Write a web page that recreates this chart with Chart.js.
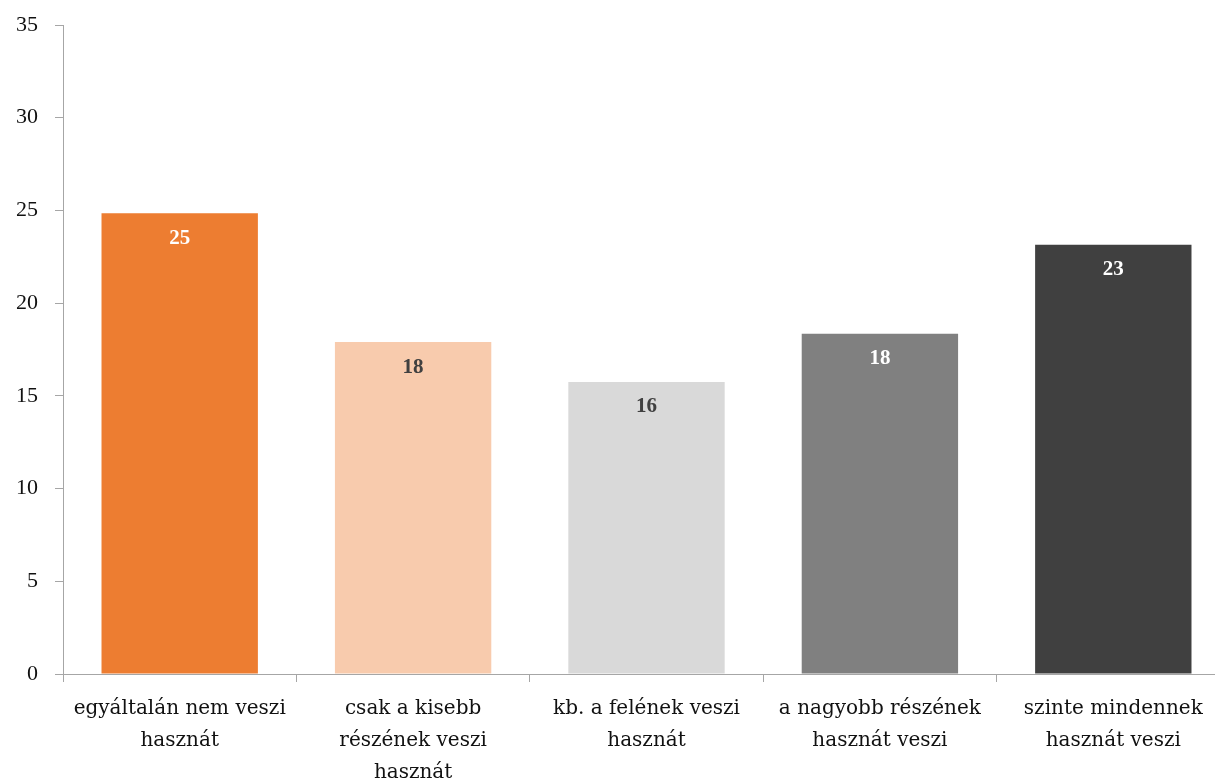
<!DOCTYPE html>
<html>
<head>
<meta charset="utf-8">
<script src="https://cdn.jsdelivr.net/npm/chart.js@4"></script>
<style>
html,body{margin:0;padding:0;background:#fff;overflow:hidden;}
#wrap{width:1230px;height:783px;position:relative;}
</style>
</head>
<body>
<div id="wrap"><canvas id="c" width="1230" height="783"></canvas></div>
<script>
const categories = [
  ["egyáltalán nem veszi", "hasznát"],
  ["csak a kisebb", "részének veszi", "hasznát"],
  ["kb. a felének veszi", "hasznát"],
  ["a nagyobb részének", "hasznát veszi"],
  ["szinte mindennek", "hasznát veszi"]
];
const values = [24.85, 17.9, 15.75, 18.35, 23.15];
const barColors = ["#ED7D31", "#F8CBAD", "#D9D9D9", "#808080", "#404040"];
const labelColors = ["#FFFFFF", "#404040", "#404040", "#FFFFFF", "#FFFFFF"];
const yMin = 0, yMax = 35, yStep = 5;

const labelPlugin = {
  id: 'barLabels',
  afterDatasetsDraw(chart) {
    const ctx = chart.ctx;
    const meta = chart.getDatasetMeta(0);
    ctx.save();
    ctx.font = 'bold 21px "Liberation Serif", serif';
    ctx.textAlign = 'center';
    ctx.textBaseline = 'middle';
    meta.data.forEach((bar, i) => {
      ctx.fillStyle = labelColors[i];
      ctx.fillText(Math.round(values[i]).toString(), bar.x, bar.y + 25);
    });
    ctx.restore();
  }
};

new Chart(document.getElementById('c'), {
  type: 'bar',
  data: {
    labels: categories,
    datasets: [{
      data: values,
      backgroundColor: barColors,
      barPercentage: 0.67,
      categoryPercentage: 1.0,
      borderWidth: 0
    }]
  },
  options: {
    responsive: false,
    animation: false,
    devicePixelRatio: 1,
    layout: { padding: { top: 25, left: 0, right: 0, bottom: 0 } },
    plugins: { legend: { display: false }, tooltip: { enabled: false } },
    scales: {
      x: {
        grid: { display: true, drawOnChartArea: false, offset: true, tickLength: 8, color: '#A6A6A6', lineWidth: 1 },
        border: { display: true, color: '#A6A6A6', width: 1 },
        ticks: {
          color: '#111111',
          font: { family: '"DejaVu Serif", serif', size: 20, lineHeight: 1.6 },
          maxRotation: 0, minRotation: 0, autoSkip: false, padding: 11
        },
        afterFit(scale) { scale.height = 109; }
      },
      y: {
        min: yMin, max: yMax,
        grid: { display: true, drawOnChartArea: false, tickLength: 8, color: '#A6A6A6', lineWidth: 1 },
        border: { display: true, color: '#A6A6A6', width: 1 },
        ticks: {
          stepSize: yStep,
          color: '#111111',
          font: { family: '"Liberation Serif", serif', size: 22 },
          padding: 17
        },
        afterFit(scale) { scale.width = 63; scale.paddingTop = 0; scale.paddingBottom = 0; }
      }
    }
  },
  plugins: [labelPlugin]
});
</script>
</body>
</html>
